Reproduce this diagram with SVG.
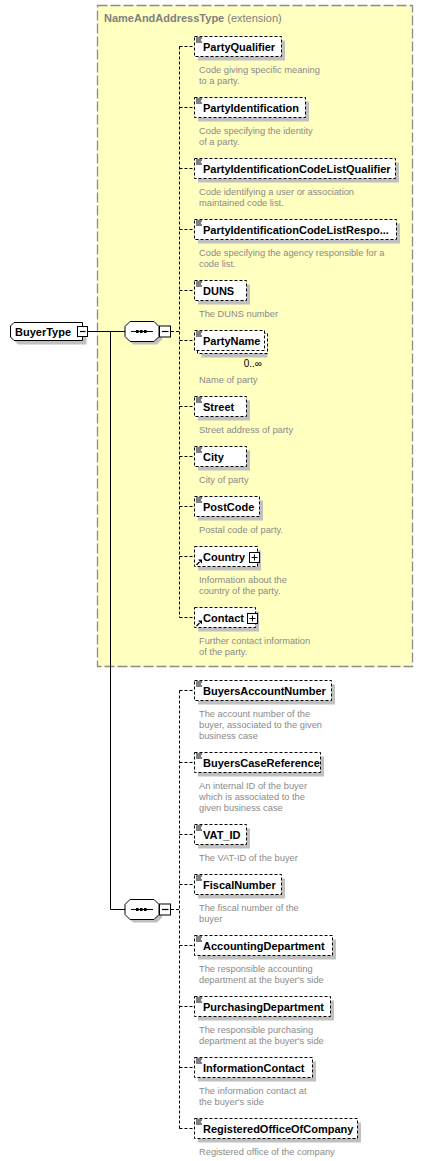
<svg xmlns="http://www.w3.org/2000/svg" xmlns:xlink="http://www.w3.org/1999/xlink" width="424" height="1161" viewBox="0 0 424 1161">
<style>
.bg{fill:#fff}
.ext{fill:#ffffc0;stroke:#8c8c8c;stroke-width:1.3;stroke-dasharray:10 3}
.title{font-family:"Liberation Sans",Arial,sans-serif;font-size:11px;fill:#808080}
.sh{fill:#c0c0c0}
.box{fill:#fff;stroke:#000;stroke-width:1;stroke-dasharray:3 2}
.sbox{fill:#fff;stroke:#000;stroke-width:1}
.name{font-family:"Liberation Sans",Arial,sans-serif;font-size:11px;font-weight:bold;fill:#000}
.desc{font-family:"Liberation Sans",Arial,sans-serif;font-size:9.3px;fill:#8a8a8a}
.occ{font-family:"Liberation Sans",Arial,sans-serif;font-size:10px;fill:#000}
.conn{fill:none;stroke:#000;stroke-width:1;stroke-dasharray:3 2}
.line{fill:none;stroke:#000;stroke-width:1}
</style>
<defs>
<g id="doc"><path d="M0,0.5H6M0,2.5H5M0,4.5H6" stroke="#000" stroke-width="1" fill="none"/></g>
<g id="ref"><path d="M0.5,5L3.5,2" stroke="#000" stroke-width="1.2" fill="none"/><polygon points="6,-0.5 2,-0.5 6,3.5" fill="#000"/></g>
<g id="plus"><rect x="0" y="0" width="10" height="10" class="sbox" stroke-width="1.2"/><path d="M2,5H8M5,2V8" stroke="#000" stroke-width="1"/></g>
<g id="seq">
<polygon class="sh" points="128,-2 133,-7 157,-7 162,-2 162,8 157,13 133,13 128,8"/>
<polygon class="sbox" points="125,-5 130,-10 154,-10 159,-5 159,5 154,10 130,10 125,5"/>
<path d="M131,0H153" stroke="#000" stroke-width="1"/>
<rect x="136" y="-1.5" width="2.6" height="3" fill="#000"/>
<rect x="140" y="-1.5" width="2.6" height="3" fill="#000"/>
<rect x="144" y="-1.5" width="2.6" height="3" fill="#000"/>
<rect x="159.5" y="-5.5" width="11" height="11" class="sbox"/>
<path d="M162,0H168.5" stroke="#000" stroke-width="1.2"/>
</g>
</defs>
<rect class="bg" x="0" y="0" width="424" height="1161"/>

<g id="NameAndAddressType">
<rect class="ext" x="97.5" y="5.5" width="315" height="661"/>
<text class="title" x="104" y="21.5"><tspan font-weight="bold">NameAndAddressType</tspan> (extension)</text>
</g>

<g id="connectors">
<path class="line" d="M88,331.5H125"/>
<path class="line" d="M110.5,331.5V909.5H125"/>
<path class="conn" d="M171,331.5H179.5M179.5,46.5V617.5"/>
<path class="conn" d="M179.5,46.5H194M179.5,107.5H194M179.5,168.5H194M179.5,229.5H194M179.5,290.5H194M179.5,340.5H194M179.5,406.5H194M179.5,456.5H194M179.5,506.5H194M179.5,556.5H194M179.5,617.5H194"/>
<path class="conn" d="M171,909.5H179.5M179.5,690.5V1128.5"/>
<path class="conn" d="M179.5,690.5H194M179.5,762.5H194M179.5,834.5H194M179.5,884.5H194M179.5,945.5H194M179.5,1006.5H194M179.5,1067.5H194M179.5,1128.5H194"/>
</g>

<g id="BuyerType">
<polygon class="sh" points="18,326.5 86.5,326.5 86.5,344.5 18,344.5 14.5,341 14.5,330"/>
<polygon class="sbox" points="14,322.5 82.5,322.5 82.5,340.5 14,340.5 10.5,337 10.5,326"/>
<text class="name" x="15" y="335.5">BuyerType</text>
<rect class="sbox" x="77.5" y="326.5" width="10" height="10"/>
<path d="M80,331.5H85.5" stroke="#000" stroke-width="1.2"/>
</g>

<g id="sequence1"><use xlink:href="#seq" href="#seq" transform="translate(0,331.5)"/></g>
<g id="sequence2"><use xlink:href="#seq" href="#seq" transform="translate(0,909.5)"/></g>

<g id="PartyQualifier">
<rect class="sh" x="198" y="40.5" width="87" height="20"/>
<rect class="box" x="194.5" y="36.5" width="87" height="20"/>
<use xlink:href="#doc" href="#doc" x="196" y="37.5"/>
<text class="name" x="203" y="51">PartyQualifier</text>
<text class="desc" x="199" y="72.5">Code giving specific meaning</text>
<text class="desc" x="199" y="83.5">to a party.</text>
</g>

<g id="PartyIdentification">
<rect class="sh" x="198" y="101.5" width="111" height="20"/>
<rect class="box" x="194.5" y="97.5" width="111" height="20"/>
<use xlink:href="#doc" href="#doc" x="196" y="98.5"/>
<text class="name" x="203" y="112">PartyIdentification</text>
<text class="desc" x="199" y="133.5">Code specifying the identity</text>
<text class="desc" x="199" y="144.5">of a party.</text>
</g>

<g id="PartyIdentificationCodeListQualifier">
<rect class="sh" x="198" y="162.5" width="201" height="20"/>
<rect class="box" x="194.5" y="158.5" width="201" height="20"/>
<use xlink:href="#doc" href="#doc" x="196" y="159.5"/>
<text class="name" x="203" y="173">PartyIdentificationCodeListQualifier</text>
<text class="desc" x="199" y="194.5">Code identifying a user or association</text>
<text class="desc" x="199" y="205.5">maintained code list.</text>
</g>

<g id="PartyIdentificationCodeListResponsibleAgency">
<rect class="sh" x="198" y="223.5" width="202" height="20"/>
<rect class="box" x="194.5" y="219.5" width="202" height="20"/>
<use xlink:href="#doc" href="#doc" x="196" y="220.5"/>
<text class="name" x="203" y="234">PartyIdentificationCodeListRespo...</text>
<text class="desc" x="199" y="255.5">Code specifying the agency responsible for a</text>
<text class="desc" x="199" y="266.5">code list.</text>
</g>

<g id="DUNS">
<rect class="sh" x="198" y="284.5" width="52" height="20"/>
<rect class="box" x="194.5" y="280.5" width="52" height="20"/>
<use xlink:href="#doc" href="#doc" x="196" y="281.5"/>
<text class="name" x="203" y="295">DUNS</text>
<text class="desc" x="199" y="316.5">The DUNS number</text>
</g>

<g id="PartyName">
<rect class="sh" x="201.5" y="337.5" width="66" height="20"/>
<rect class="box" x="197.5" y="333.5" width="70" height="20"/>
<rect class="box" x="194.5" y="330.5" width="70" height="20"/>
<use xlink:href="#doc" href="#doc" x="196" y="331.5"/>
<text class="name" x="203" y="345">PartyName</text>
<text class="occ" x="262" y="366.5" text-anchor="end">0..∞</text>
<text class="desc" x="199" y="382.5">Name of party</text>
</g>

<g id="Street">
<rect class="sh" x="198" y="400.5" width="52" height="20"/>
<rect class="box" x="194.5" y="396.5" width="52" height="20"/>
<use xlink:href="#doc" href="#doc" x="196" y="397.5"/>
<text class="name" x="203" y="411">Street</text>
<text class="desc" x="199" y="432.5">Street address of party</text>
</g>

<g id="City">
<rect class="sh" x="198" y="450.5" width="52" height="20"/>
<rect class="box" x="194.5" y="446.5" width="52" height="20"/>
<use xlink:href="#doc" href="#doc" x="196" y="447.5"/>
<text class="name" x="203" y="461">City</text>
<text class="desc" x="199" y="482.5">City of party</text>
</g>

<g id="PostCode">
<rect class="sh" x="198" y="500.5" width="65" height="20"/>
<rect class="box" x="194.5" y="496.5" width="65" height="20"/>
<use xlink:href="#doc" href="#doc" x="196" y="497.5"/>
<text class="name" x="203" y="511">PostCode</text>
<text class="desc" x="199" y="532.5">Postal code of party.</text>
</g>

<g id="Country">
<rect class="sh" x="198" y="550.5" width="63" height="20"/>
<rect class="box" x="194.5" y="546.5" width="63" height="20"/>
<use xlink:href="#ref" href="#ref" x="196" y="560"/>
<text class="name" x="203" y="561">Country</text>
<use xlink:href="#plus" href="#plus" x="249.5" y="552.5"/>
<text class="desc" x="199" y="582.5">Information about the</text>
<text class="desc" x="199" y="593.5">country of the party.</text>
</g>

<g id="Contact">
<rect class="sh" x="198" y="611.5" width="61" height="20"/>
<rect class="box" x="194.5" y="607.5" width="61" height="20"/>
<use xlink:href="#ref" href="#ref" x="196" y="621"/>
<text class="name" x="203" y="622">Contact</text>
<use xlink:href="#plus" href="#plus" x="247.5" y="613.5"/>
<text class="desc" x="199" y="643.5">Further contact information</text>
<text class="desc" x="199" y="654.5">of the party.</text>
</g>

<g id="BuyersAccountNumber">
<rect class="sh" x="198" y="684.5" width="137" height="20"/>
<rect class="box" x="194.5" y="680.5" width="137" height="20"/>
<use xlink:href="#doc" href="#doc" x="196" y="681.5"/>
<text class="name" x="203" y="695">BuyersAccountNumber</text>
<text class="desc" x="199" y="716.5">The account number of the</text>
<text class="desc" x="199" y="727.5">buyer, associated to the given</text>
<text class="desc" x="199" y="738.5">business case</text>
</g>

<g id="BuyersCaseReference">
<rect class="sh" x="198" y="756.5" width="126" height="20"/>
<rect class="box" x="194.5" y="752.5" width="126" height="20"/>
<use xlink:href="#doc" href="#doc" x="196" y="753.5"/>
<text class="name" x="203" y="767">BuyersCaseReference</text>
<text class="desc" x="199" y="788.5">An internal ID of the buyer</text>
<text class="desc" x="199" y="799.5">which is associated to the</text>
<text class="desc" x="199" y="810.5">given business case</text>
</g>

<g id="VAT_ID">
<rect class="sh" x="198" y="828.5" width="52" height="20"/>
<rect class="box" x="194.5" y="824.5" width="52" height="20"/>
<use xlink:href="#doc" href="#doc" x="196" y="825.5"/>
<text class="name" x="203" y="839">VAT_ID</text>
<text class="desc" x="199" y="860.5">The VAT-ID of the buyer</text>
</g>

<g id="FiscalNumber">
<rect class="sh" x="198" y="878.5" width="87" height="20"/>
<rect class="box" x="194.5" y="874.5" width="87" height="20"/>
<use xlink:href="#doc" href="#doc" x="196" y="875.5"/>
<text class="name" x="203" y="889">FiscalNumber</text>
<text class="desc" x="199" y="910.5">The fiscal number of the</text>
<text class="desc" x="199" y="921.5">buyer</text>
</g>

<g id="AccountingDepartment">
<rect class="sh" x="198" y="939.5" width="138" height="20"/>
<rect class="box" x="194.5" y="935.5" width="138" height="20"/>
<use xlink:href="#doc" href="#doc" x="196" y="936.5"/>
<text class="name" x="203" y="950">AccountingDepartment</text>
<text class="desc" x="199" y="971.5">The responsible accounting</text>
<text class="desc" x="199" y="982.5">department at the buyer's side</text>
</g>

<g id="PurchasingDepartment">
<rect class="sh" x="198" y="1000.5" width="136" height="20"/>
<rect class="box" x="194.5" y="996.5" width="136" height="20"/>
<use xlink:href="#doc" href="#doc" x="196" y="997.5"/>
<text class="name" x="203" y="1011">PurchasingDepartment</text>
<text class="desc" x="199" y="1032.5">The responsible purchasing</text>
<text class="desc" x="199" y="1043.5">department at the buyer's side</text>
</g>

<g id="InformationContact">
<rect class="sh" x="198" y="1061.5" width="118" height="20"/>
<rect class="box" x="194.5" y="1057.5" width="118" height="20"/>
<use xlink:href="#doc" href="#doc" x="196" y="1058.5"/>
<text class="name" x="203" y="1072">InformationContact</text>
<text class="desc" x="199" y="1093.5">The information contact at</text>
<text class="desc" x="199" y="1104.5">the buyer's side</text>
</g>

<g id="RegisteredOfficeOfCompany">
<rect class="sh" x="198" y="1122.5" width="163" height="20"/>
<rect class="box" x="194.5" y="1118.5" width="163" height="20"/>
<use xlink:href="#doc" href="#doc" x="196" y="1119.5"/>
<text class="name" x="203" y="1133">RegisteredOfficeOfCompany</text>
<text class="desc" x="199" y="1154.5">Registered office of the company</text>
</g>
</svg>
